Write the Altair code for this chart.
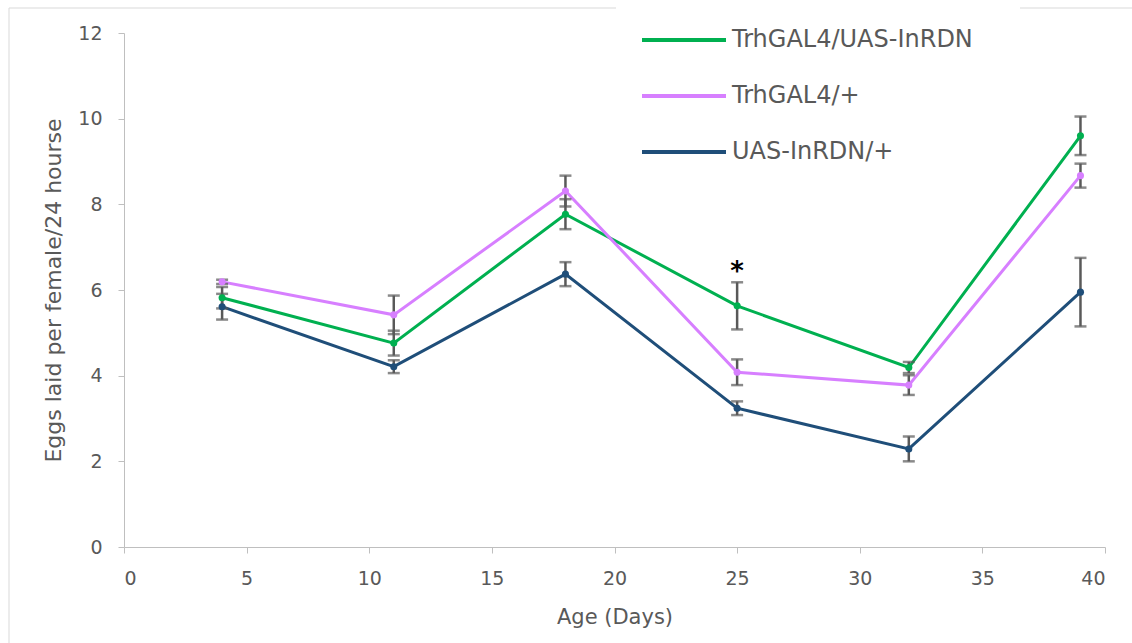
import altair as alt
import pandas as pd

days = [4, 11, 18, 25, 32, 39]
series_names = ["TrhGAL4/UAS-InRDN", "TrhGAL4/+", "UAS-InRDN/+"]
green = [5.82, 4.76, 7.77, 5.63, 4.19, 9.60]
green_err = [0.25, 0.29, 0.35, 0.55, 0.13, 0.45]
pink = [6.19, 5.42, 8.31, 4.08, 3.78, 8.67]
pink_err = [0.05, 0.45, 0.36, 0.30, 0.23, 0.28]
navy = [5.61, 4.21, 6.37, 3.24, 2.29, 5.95]
navy_err = [0.30, 0.15, 0.28, 0.16, 0.29, 0.80]
colors = ["#00b050", "#d77fff", "#1f4e79"]
star_day = [25]
star_y = [6.42]
star_text = ["*"]

rows = []
for name, vals, errs in zip(series_names, [green, pink, navy], [green_err, pink_err, navy_err]):
    for d, v, e in zip(days, vals, errs):
        rows.append({"day": d, "series": name, "value": v, "err": e})
df = pd.DataFrame(rows)
star_df = pd.DataFrame({"day": star_day, "y": star_y, "t": star_text})

FONT = "DejaVu Sans"
GRAY = "#595959"
XT = "Age (Days)"
YT = "Eggs laid per female/24 hourse"

x = alt.X("day:Q", scale=alt.Scale(domain=[0, 40], nice=False), title=XT,
          axis=alt.Axis(values=list(range(0, 41, 5)), grid=False,
                        labelFontSize=19, titleFontSize=21, labelPadding=16, titlePadding=18,
                        tickSize=6, domainColor="#bfbfbf", tickColor="#bfbfbf",
                        labelColor=GRAY, titleColor=GRAY, titleFontWeight="normal",
                        labelFont=FONT, titleFont=FONT))
y = alt.Y("value:Q", scale=alt.Scale(domain=[0, 12], nice=False), title=YT,
          axis=alt.Axis(values=list(range(0, 13, 2)), grid=False,
                        labelFontSize=19, titleFontSize=22, labelPadding=16, titlePadding=12,
                        tickSize=6, domainColor="#bfbfbf", tickColor="#bfbfbf",
                        labelColor=GRAY, titleColor=GRAY, titleFontWeight="normal",
                        labelFont=FONT, titleFont=FONT))
color = alt.Color("series:N", scale=alt.Scale(domain=series_names, range=colors),
                  legend=alt.Legend(title=None, orient="none", legendX=516, legendY=-37,
                                    symbolType="stroke", symbolSize=7056, symbolStrokeWidth=4,
                                    rowPadding=-32, labelFontSize=24, labelFont=FONT,
                                    labelColor=GRAY, labelOffset=4, padding=0, labelLimit=400))

base = alt.Chart(df)
lines = base.mark_line(strokeWidth=3).encode(x=x, y=y, color=color)
bars = base.transform_calculate(lo="datum.value - datum.err", hi="datum.value + datum.err").mark_errorbar(
    ticks=alt.MarkConfig(size=12, color=GRAY, strokeWidth=2.5), color=GRAY, thickness=2.5
).encode(x=alt.X("day:Q", title=XT), y=alt.Y("lo:Q", title=YT), y2="hi:Q")
points = base.mark_circle(size=50, opacity=1).encode(
    x=alt.X("day:Q", title=XT), y=alt.Y("value:Q", title=YT),
    color=alt.Color("series:N", scale=alt.Scale(domain=series_names, range=colors), legend=None))
star = alt.Chart(star_df).mark_text(fontSize=26, fontWeight="bold", color="black", baseline="middle",
                                    font="DejaVu Sans").encode(
    x=alt.X("day:Q", title=XT), y=alt.Y("y:Q", title=YT), text="t:N")

# faint outer frame of the original figure (left edge and top edge pieces)
frame_left = alt.Chart(star_df).mark_rule(color="#d9d9d9", strokeWidth=1).encode(
    x=alt.value(-115), y=alt.value(-25), y2=alt.value(620))
frame_top1 = alt.Chart(star_df).mark_rule(color="#d9d9d9", strokeWidth=1).encode(
    x=alt.value(-115), x2=alt.value(492), y=alt.value(-25))
frame_top2 = alt.Chart(star_df).mark_rule(color="#d9d9d9", strokeWidth=1).encode(
    x=alt.value(896), x2=alt.value(1010), y=alt.value(-25))

chart = alt.layer(lines, bars, points, star, frame_left, frame_top1, frame_top2).properties(
    width=981, height=514,
    autosize=alt.AutoSizeParams(type="none"),
    padding={"left": 124, "top": 33, "right": 27, "bottom": 96},
    background="white",
).configure_view(stroke=None)

chart.save("out.html", embed_options={"renderer": "svg", "actions": False})
